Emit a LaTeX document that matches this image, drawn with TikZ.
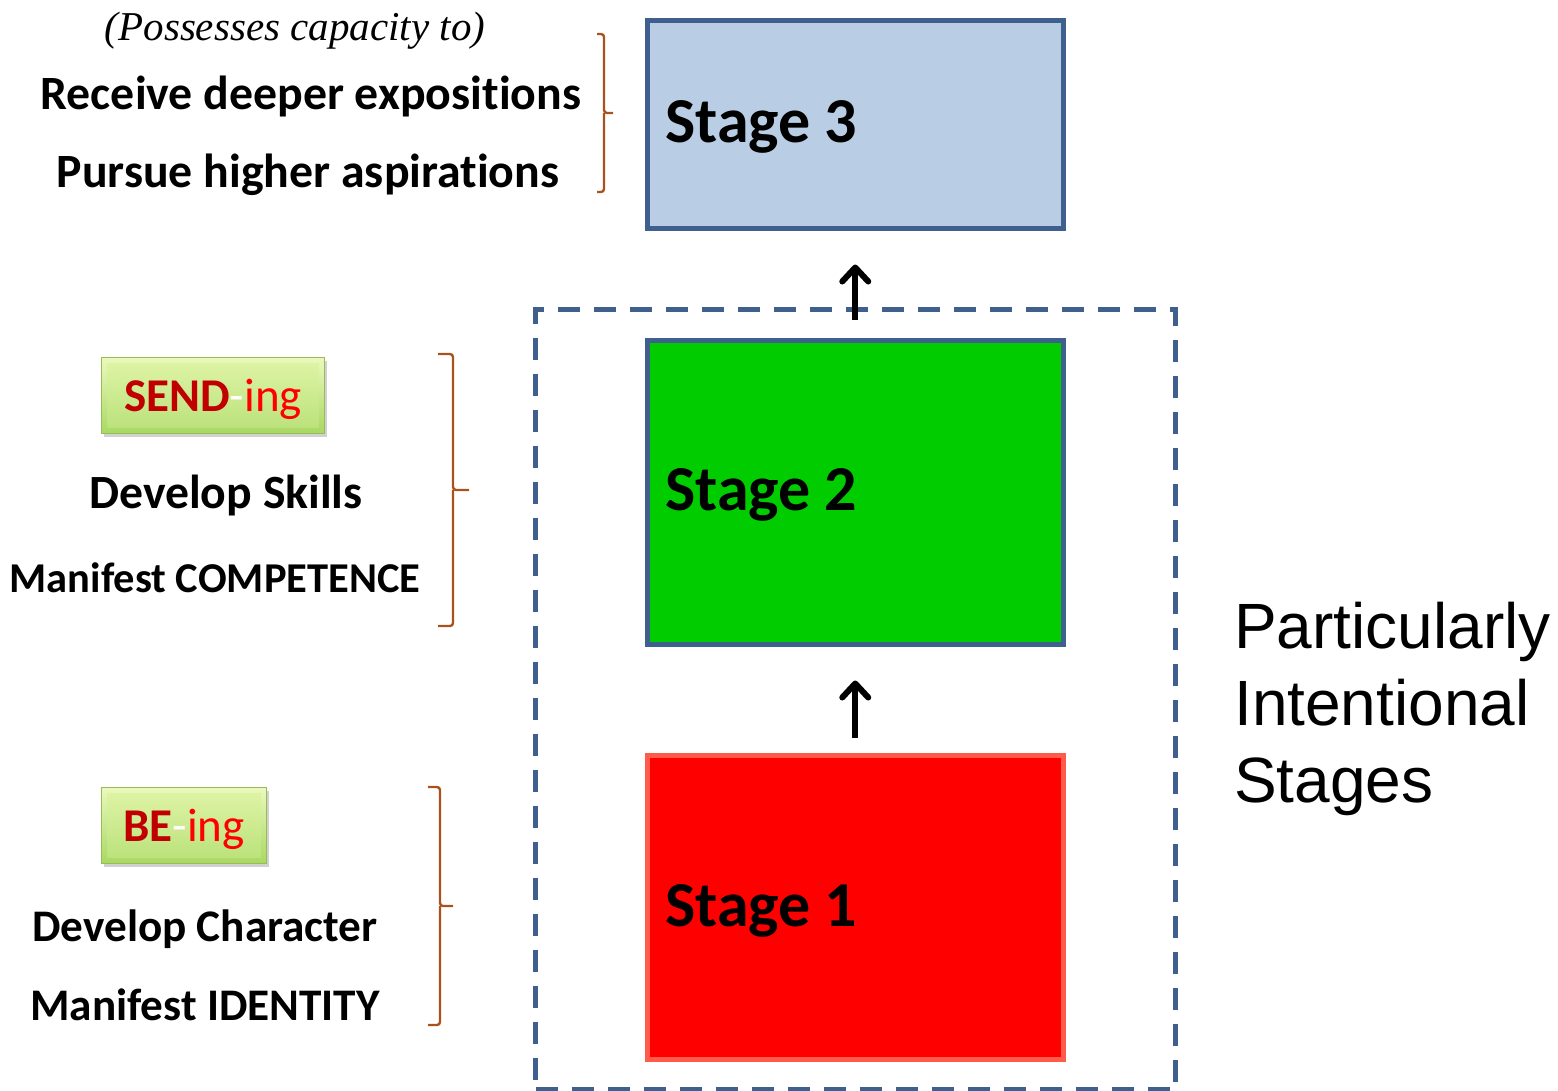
\documentclass[tikz,border=0pt]{standalone}
\usepackage{fontspec}
\newfontfamily\calfont[Ligatures=NoCommon]{Carlito}
\newfontfamily\arifont{Liberation Sans}
\newfontfamily\serfont{Liberation Serif}
\usetikzlibrary{arrows.meta,shadows,calc}
\definecolor{boxblue}{HTML}{3F5F8F}
\definecolor{stthree}{HTML}{B9CDE5}
\definecolor{sttwo}{HTML}{00CC00}
\definecolor{stone}{HTML}{FF0000}
\definecolor{stoneb}{HTML}{FF5A4A}
\definecolor{bracec}{HTML}{A9521C}
\definecolor{btntop}{HTML}{EAF9BC}
\definecolor{btnbot}{HTML}{A8D862}
\definecolor{btnintop}{HTML}{DDF3A4}
\definecolor{btninbot}{HTML}{BCE27C}
\definecolor{btnborder}{HTML}{9BBB59}
\definecolor{darkred}{HTML}{C00000}
\begin{document}
\begin{tikzpicture}[x=1pt,y=-1pt,
  stagebox/.style={draw=boxblue, line width=4.5pt, minimum width=416pt, minimum height=#1, inner sep=0pt},
  stagelbl/.style={font=\calfont\bfseries\fontsize{64}{72}\selectfont, anchor=west, inner sep=0pt},
  lefttxt/.style={font=\calfont\bfseries\fontsize{#1}{52}\selectfont, anchor=base, inner sep=0pt},
  btn/.style={draw=btnborder, line width=1pt, top color=btntop, bottom color=btnbot, minimum height=76pt, inner sep=0pt,
     drop shadow={shadow xshift=2pt, shadow yshift=-3pt, opacity=0.3, fill=black!60}},
  btnin/.style={top color=btnintop, bottom color=btninbot, inner sep=0pt},
  btntxt/.style={font=\calfont\fontsize{47}{52}\selectfont, inner sep=0pt},
  brc/.style={draw=bracec, line width=2.4pt, rounded corners=3pt},
  uparrow/.style={draw=black, line width=6pt, -{Straight Barb[length=14pt, width=26pt, line cap=round, line join=round]}},
  dashbox/.style={draw=boxblue, line width=5pt, dash pattern=on 22pt off 14pt}
]
\useasboundingbox (0,0) rectangle (1558,1090);

% dashed container
\node[dashbox, minimum width=640pt, minimum height=780pt, anchor=north west, inner sep=0pt] (cont) at (533,307) {};

% stage boxes
\node[stagebox=208pt, fill=stthree, anchor=north west] (s3) at (645,18) {};
\node[stagebox=304pt, fill=sttwo, anchor=north west] (s2) at (645,338) {};
\node[stagebox=304pt, fill=stone, draw=stoneb, anchor=north west] (s1) at (645,753) {};

\node[stagelbl] (l3) at (665,127) {Stage 3};
\node[stagelbl] (l2) at (665,495) {Stage 2};
\node[stagelbl] (l1) at (665,911) {Stage 1};

% arrows
\draw[uparrow, shorten <=15pt, shorten >=34pt] (s1.north) -- (s2.south);
\draw[uparrow, shorten <=18pt, shorten >=34pt] (s2.north) -- (s3.south);

% top-left text
\node[font=\serfont\itshape\fontsize{41}{46}\selectfont, anchor=base, inner sep=0pt] (poss) at (295,40) {(Possesses capacity to)};
\node[lefttxt=47.8] (recv) at (311,109) {Receive deeper expositions};
\node[lefttxt=47.8] (purs) at (308,187) {Pursue higher aspirations};

% buttons
\node[btn, minimum width=223pt, anchor=north west] (send) at (101,357) {};
\node[btnin, minimum width=211pt, minimum height=64pt] (sendin) at (send.center) {};
\node[btntxt] (sendt) at ($(send.center)+(0,4)$) {\textcolor{darkred}{\bfseries SEND}\textcolor{white}{-}\textcolor{red}{ing}};
\node[btn, minimum width=165pt, anchor=north west] (be) at (101,787) {};
\node[btnin, minimum width=153pt, minimum height=64pt] (bein) at (be.center) {};
\node[btntxt] (bet) at ($(be.center)+(0,4)$) {\textcolor{darkred}{\bfseries BE}\textcolor{white}{-}\textcolor{red}{ing}};

\node[lefttxt=47.7] (devs) at (226,508) {Develop Skills};
\node[lefttxt=42.5] (mcomp) at (215,592) {Manifest COMPETENCE};
\node[lefttxt=45.2] (devc) at (205,941) {Develop Character};
\node[lefttxt=45.2] (mid) at (205,1020) {Manifest IDENTITY};

% braces
\coordinate (b3t) at (597,34);
\coordinate (b3b) at (597,192);
\draw[brc] (b3t) -- (604,34) -- (604,113) -- (613,113);
\draw[brc] (604,113) -- (604,192) -- (b3b);

\coordinate (b2t) at (438,354);
\coordinate (b2b) at (438,626);
\draw[brc] (b2t) -- (453,354) -- (453,490) -- (469,490);
\draw[brc] (453,490) -- (453,626) -- (b2b);

\coordinate (b1t) at (428,787);
\coordinate (b1b) at (428,1025);
\draw[brc] (b1t) -- (440,787) -- (440,906) -- (453,906);
\draw[brc] (440,906) -- (440,1025) -- (b1b);

% right text
\node[font=\arifont\fontsize{64}{77}\selectfont, align=left, anchor=north west, inner sep=0pt] (pis) at (1234,602)
  {Particularly\\Intentional\\Stages};
\end{tikzpicture}
\end{document}
